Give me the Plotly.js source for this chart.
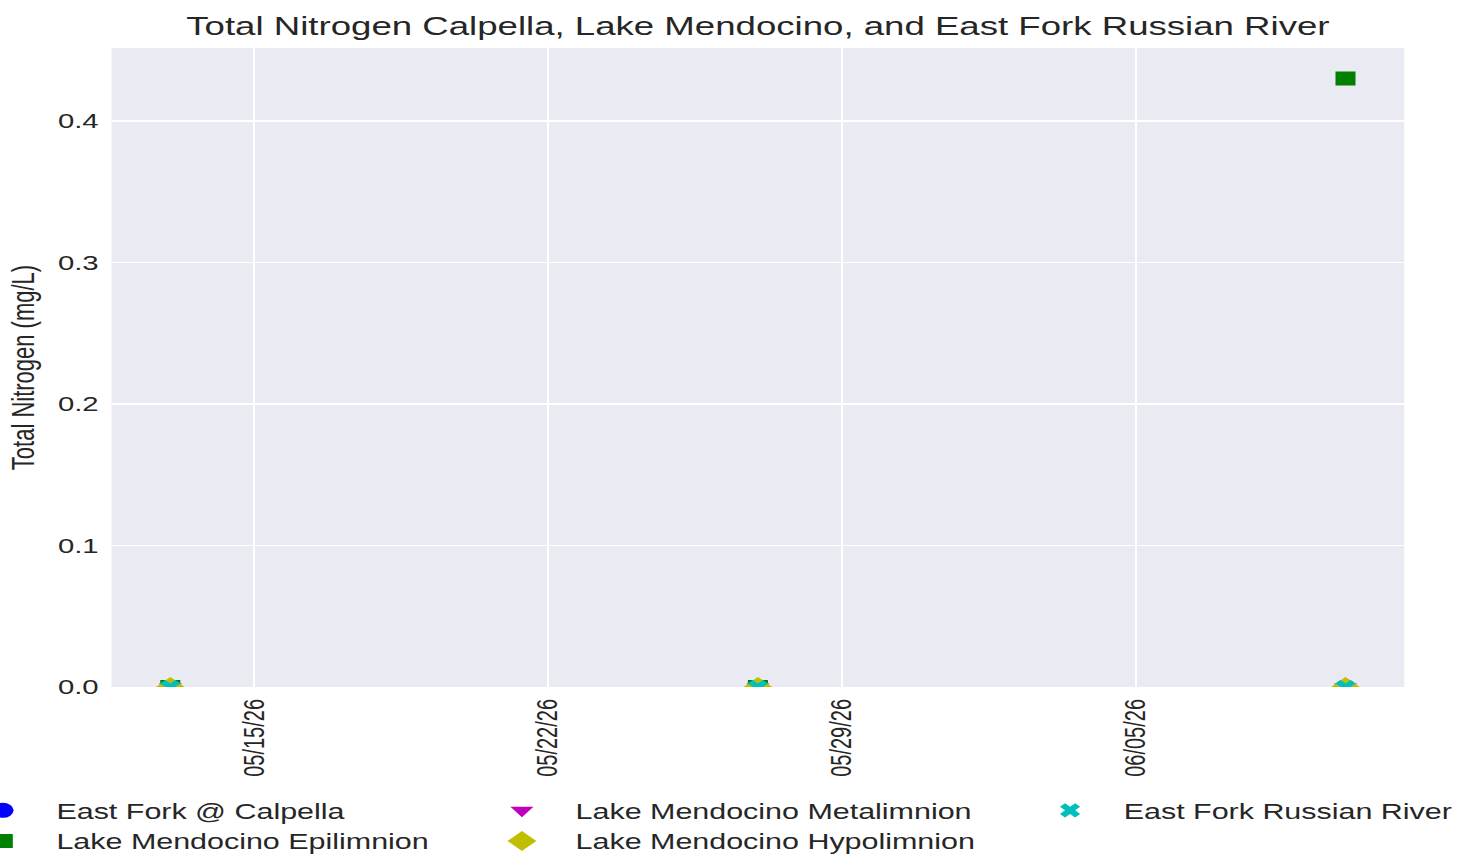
<!DOCTYPE html>
<html>
<head>
<meta charset="utf-8">
<script src="https://cdn.plot.ly/plotly-3.0.1.min.js"></script>
<style>
  html, body { margin: 0; padding: 0; background: #ffffff; overflow: hidden; }
  #wrap { width: 1463px; height: 856px; overflow: hidden; }
  #chart { width: 1023px; height: 856px; transform-origin: 0 0; }
</style>
</head>
<body>
<div id="wrap"><div id="chart"></div></div>
<script>
// ---- data ----
const dates = ["2026-05-13", "2026-05-27", "2026-06-10"];
const calpella = [0, 0, 0];
const epilimnion = [0, 0, 0.43];
const metalimnion = [0, 0, 0];
const hypolimnion = [0, 0, 0];
const eastForkRussian = [0, 0, 0];
const seriesNames = ["East Fork @ Calpella", "Lake Mendocino Epilimnion", "Lake Mendocino Metalimnion", "Lake Mendocino Hypolimnion", "East Fork Russian River"];
const tickDates = ["2026-05-15", "2026-05-22", "2026-05-29", "2026-06-05"];
const tickLabels = ["05/15/26", "05/22/26", "05/29/26", "06/05/26"];
const yTicks = [0, 0.1, 0.2, 0.3, 0.4];
const xRange = ["2026-05-11 14:24", "2026-06-11 09:36"];
const yRange = [0, 0.4515];

const txt = "#262626";
const font = "Liberation Sans, Arial, Helvetica, sans-serif";

function tr(name, y, symbol, color, size, legend) {
  return {
    type: "scatter", mode: "markers", x: dates, y: y, name: name,
    marker: { symbol: symbol, color: color, size: size, line: { width: 0 } },
    legend: legend, cliponaxis: true
  };
}

const data = [
  tr(seriesNames[0], calpella, "circle", "#0000FF", 15, "legend"),
  tr(seriesNames[1], epilimnion, "square", "#008000", 14, "legend"),
  tr(seriesNames[2], metalimnion, "triangle-down", "#BF00BF", 14, "legend2"),
  tr(seriesNames[3], hypolimnion, "diamond", "#BFBF00", 15.5, "legend2"),
  tr(seriesNames[4], eastForkRussian, "x", "#00BFBF", 12.5, "legend3")
];

const legendBase = {
  orientation: "v", xref: "paper", yref: "paper",
  xanchor: "left", yanchor: "top", y: -0.1612,
  bgcolor: "rgba(0,0,0,0)", borderwidth: 0,
  font: { family: font, size: 21.3, color: txt },
  itemwidth: 65, tracegroupgap: 0
};

const layout = {
  width: 1023, height: 856,
  margin: { l: 78, r: 41, t: 48, b: 169, pad: 0, autoexpand: false },
  paper_bgcolor: "#ffffff",
  plot_bgcolor: "#EAEAF2",
  showlegend: true,
  title: {
    text: "Total Nitrogen Calpella, Lake Mendocino, and East Fork Russian River",
    font: { family: font, size: 25.6, color: txt },
    x: 0.5, xref: "paper", xanchor: "center",
    y: 1 - 26 / 856, yref: "container", yanchor: "middle"
  },
  xaxis: {
    type: "date", range: xRange,
    tickmode: "array", tickvals: tickDates, ticktext: tickLabels,
    tickangle: -90, ticks: "", ticklabelstandoff: 7,
    tickfont: { family: font, size: 20, color: txt },
    showgrid: true, gridcolor: "#ffffff", gridwidth: 1.3,
    zeroline: false, showline: false, fixedrange: true, automargin: false
  },
  yaxis: {
    range: yRange, tickmode: "array", tickvals: yTicks,
    tickformat: ".1f", ticks: "", ticklabelstandoff: 8,
    tickfont: { family: font, size: 20.5, color: txt },
    showgrid: true, gridcolor: "#ffffff", gridwidth: 1.8,
    zeroline: false, showline: false,
    title: { text: "Total Nitrogen (mg/L)", font: { family: font, size: 22, color: txt } },
    automargin: false
  },
  legend: Object.assign({}, legendBase, { x: -0.1256 }),
  legend2: Object.assign({}, legendBase, { x: 0.276 }),
  legend3: Object.assign({}, legendBase, { x: 0.700 })
};

Plotly.newPlot("chart", data, layout, { displayModeBar: false, staticPlot: true }).then(function (gd) {
  requestAnimationFrame(function () {
    requestAnimationFrame(function () {
      gd.style.transform = "scaleX(1.43)";
    });
  });
});
</script>
</body>
</html>
